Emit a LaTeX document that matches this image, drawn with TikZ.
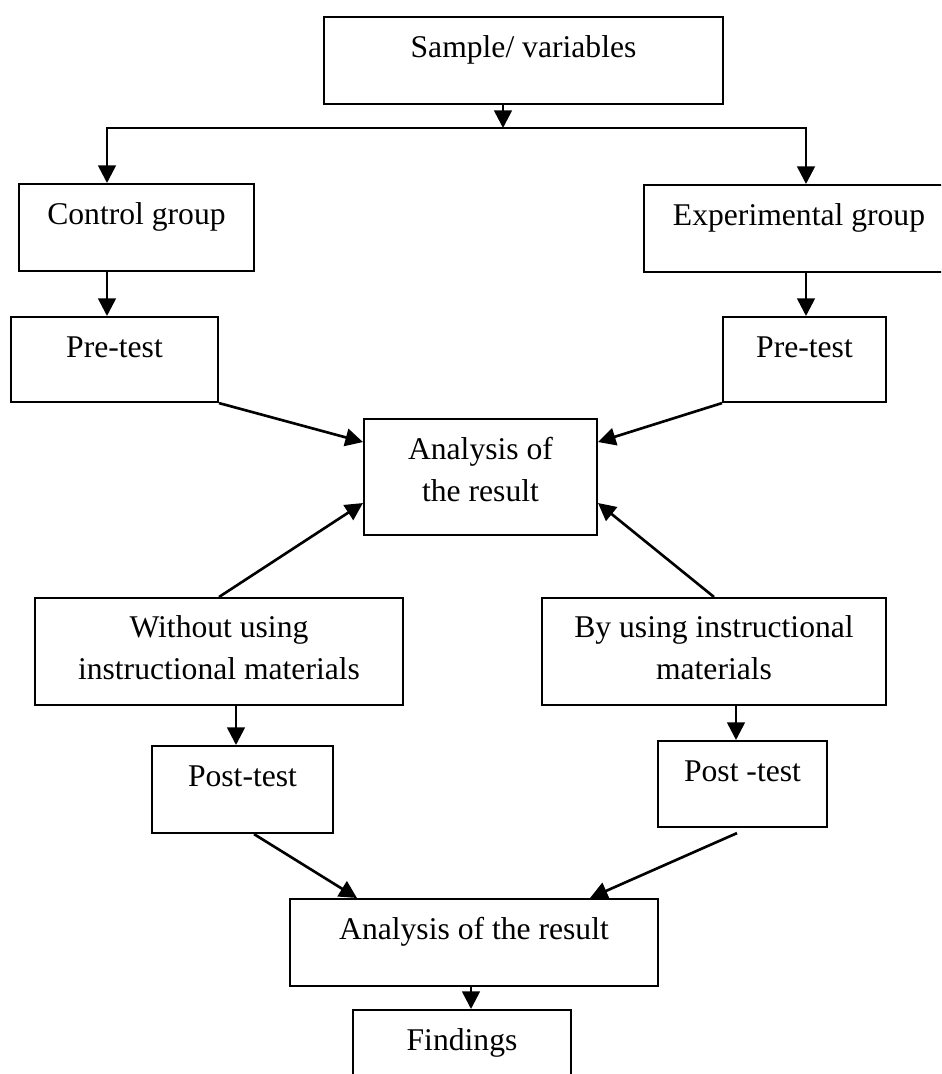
\documentclass[tikz,border=0pt]{standalone}
\usepackage{fontspec}
\setmainfont{Liberation Serif}
\usetikzlibrary{arrows.meta,calc}
\tikzstyle{box} = [draw,rectangle,line width=1.2pt,anchor=north,inner sep=0pt,align=center,text height=0.8cm,font=\fontsize{18}{23.9}\selectfont]
\tikzstyle{arr} = [line width=1.5pt,-{Triangle[length=10pt,width=10pt]}]
\tikzstyle{arrLR} = [line width=1.5pt,{Triangle[length=10pt,width=10pt]}-{Triangle[length=10pt,width=10pt]}]

\begin{document}
\begin{tikzpicture}[x=0.02cm,y=-0.02cm]

\useasboundingbox (0,0) rectangle (941,1074);
\clip (0,0) rectangle (941,1074);

\node[box,minimum width=7.98cm,text depth=0.94cm] (smp) at (523.5,16) {Sample/ variables};
\node[box,minimum width=4.7cm,text depth=0.94cm] (ctl) at (136.5,183) {Control group};
\node[box,minimum width=6.2cm,text depth=0.94cm] (exg) at (799,184) {Experimental group};
\node[box,minimum width=4.14cm,text depth=0.9cm] (preL) at (114.5,316) {Pre-test};
\node[box,minimum width=3.26cm,text depth=0.9cm] (preR) at (804.5,316) {Pre-test};
% two-line boxes: text height counts from the last line
\node[box,minimum width=4.66cm,text height=1.64cm,text depth=0.68cm] (anaA) at (480.5,418) {Analysis of\\the result};
\node[box,minimum width=7.36cm,text height=1.62cm,text depth=0.52cm] (woI) at (219,597) {Without using\\instructional materials};
\node[box,minimum width=6.88cm,text height=1.62cm,text depth=0.52cm] (byI) at (714,597) {By using instructional\\materials};
\node[box,minimum width=3.62cm,text depth=0.94cm] (postL) at (242.5,745) {Post-test};
\node[box,minimum width=3.38cm,text depth=0.92cm] (postR) at (742.5,740) {Post -test};
\node[box,minimum width=7.36cm,text depth=0.94cm] (anaB) at (474,898) {Analysis of the result};
\node[box,minimum width=4.36cm,text depth=0.7cm] (fnd) at (462,1009) {Findings};

\coordinate (split) at (503,128);
\coordinate (lcorner) at (107,128);
\coordinate (rcorner) at (806,128);
\coordinate (wdn) at ($(postL.north)+(-6.5,0)$);
\coordinate (bdn) at ($(postR.north)+(-6.5,0)$);
\coordinate (fdn) at ($(fnd.north)+(9,0)$);

\draw[arr] (smp.south -| split) -- (split);
\draw[arrLR] (lcorner |- ctl.north) -- (lcorner) -- (rcorner) -- (rcorner |- exg.north);
\draw[arr] (lcorner |- ctl.south) -- (lcorner |- preL.north);
\draw[arr] (rcorner |- exg.south) -- (rcorner |- preR.north);
\draw[arr] (preL.south east) -- ($(anaA.west)+(0,-35)$);
\draw[arr] (preR.south west) -- ($(anaA.east)+(0,-35)$);
\draw[arr] (woI.north) -- ($(anaA.west)+(0,26)$);
\draw[arr] (byI.north) -- ($(anaA.east)+(0,26)$);
\draw[arr] (woI.south -| wdn) -- (wdn);
\draw[arr] (byI.south -| bdn) -- (bdn);
\draw[arr] ($(postL.south)+(11.5,0)$) -- ($(anaB.north)+(-117,0)$);
\draw[arr] ($(postR.south)+(-5.5,5)$) -- ($(anaB.north)+(116,0)$);
\draw[arr] (anaB.south -| fdn) -- (fdn);

\end{tikzpicture}
\end{document}
